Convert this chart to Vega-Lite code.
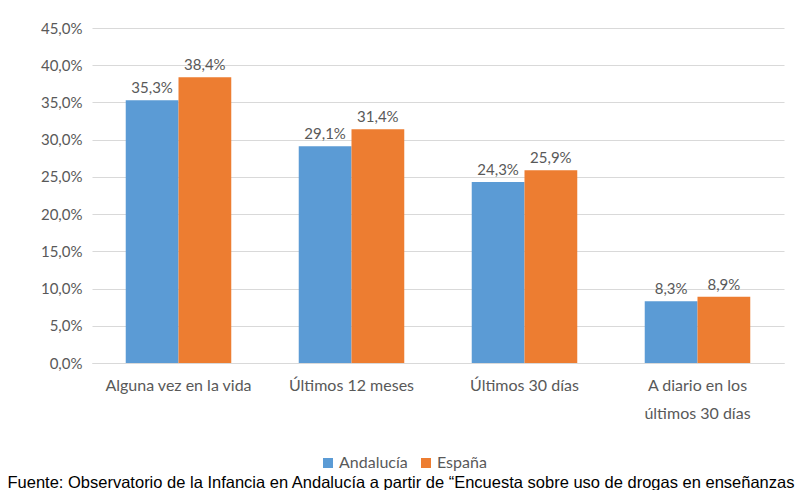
{
  "$schema": "https://vega.github.io/schema/vega-lite/v6.json",
  "width": 692,
  "height": 335,
  "autosize": {"type": "none"},
  "padding": {"left": 92, "top": 28, "right": 27, "bottom": 127},
  "background": "white",
  "config": {
    "locale": {"number": {"decimal": ",", "thousands": ".", "grouping": [3], "currency": ["", " €"]}},
    "view": {"stroke": null},
    "font": "Lato"
  },
  "title": {
    "text": "Fuente: Observatorio de la Infancia en Andalucía a partir de “Encuesta sobre uso de drogas en enseñanzas",
    "orient": "bottom",
    "anchor": "start",
    "font": "Liberation Sans",
    "fontSize": 16.5,
    "fontWeight": "normal",
    "color": "#000000",
    "dx": -33,
    "offset": 4
  },
  "data": {
    "values": [
      {"cat": "Alguna vez en la vida", "region": "Andalucía", "value": 0.353},
      {"cat": "Alguna vez en la vida", "region": "España", "value": 0.384},
      {"cat": "Últimos 12 meses", "region": "Andalucía", "value": 0.291},
      {"cat": "Últimos 12 meses", "region": "España", "value": 0.314},
      {"cat": "Últimos 30 días", "region": "Andalucía", "value": 0.243},
      {"cat": "Últimos 30 días", "region": "España", "value": 0.259},
      {"cat": "A diario en los últimos 30 días", "region": "Andalucía", "value": 0.083},
      {"cat": "A diario en los últimos 30 días", "region": "España", "value": 0.089}
    ]
  },
  "encoding": {
    "x": {
      "field": "cat",
      "type": "nominal",
      "sort": null,
      "scale": {"paddingInner": 0.39, "paddingOuter": 0.195},
      "axis": {
        "title": null,
        "labelAngle": 0,
        "labelFontSize": 16,
        "labelColor": "#595959",
        "labelPadding": 14,
        "labelLineHeight": 28,
        "ticks": false,
        "domainColor": "#D9D9D9",
        "labelExpr": "datum.value == 'A diario en los últimos 30 días' ? ['A diario en los', 'últimos 30 días'] : datum.value"
      }
    },
    "xOffset": {"field": "region", "type": "nominal"},
    "y": {
      "field": "value",
      "type": "quantitative",
      "scale": {"domain": [0, 0.45]},
      "axis": {
        "title": null,
        "format": ".1%",
        "values": [0, 0.05, 0.1, 0.15, 0.2, 0.25, 0.3, 0.35, 0.4, 0.45],
        "labelFontSize": 15,
        "labelColor": "#595959",
        "labelPadding": 10,
        "ticks": false,
        "domain": false,
        "gridColor": "#D9D9D9"
      }
    }
  },
  "layer": [
    {
      "mark": {"type": "bar"},
      "encoding": {
        "color": {
          "field": "region",
          "type": "nominal",
          "scale": {"domain": ["Andalucía", "España"], "range": ["#5B9BD5", "#ED7D31"]},
          "legend": {
            "title": null,
            "orient": "none",
            "legendX": 228,
            "legendY": 427,
            "direction": "horizontal",
            "symbolType": "square",
            "symbolSize": 100,
            "labelFontSize": 16,
            "labelColor": "#595959",
            "columnPadding": 10,
            "labelOffset": 3
          }
        }
      }
    },
    {
      "mark": {"type": "text", "dy": -12, "fontSize": 15, "color": "#595959"},
      "encoding": {
        "text": {"field": "value", "type": "quantitative", "format": ".1%"}
      }
    }
  ]
}
